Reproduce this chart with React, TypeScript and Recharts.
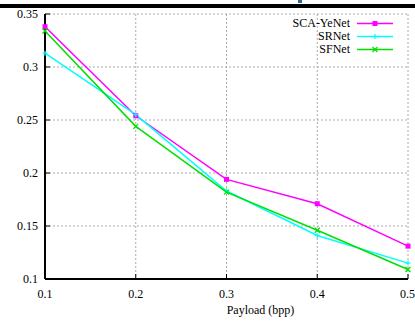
import React from 'react';
import { LineChart, Line, XAxis, YAxis, CartesianGrid, Legend } from 'recharts';

const payload = [0.1, 0.2, 0.3, 0.4, 0.5];
const scaYeNet = [0.338, 0.254, 0.194, 0.171, 0.131];
const srNet = [0.313, 0.255, 0.183, 0.141, 0.115];
const sfNet = [0.334, 0.244, 0.182, 0.146, 0.109];
const xTicks = [0.1, 0.2, 0.3, 0.4, 0.5];
const yTicks = [0.1, 0.15, 0.2, 0.25, 0.3, 0.35];
const seriesNames = ['SCA-YeNet', 'SRNet', 'SFNet'];
const xLabel = 'Payload (bpp)';

const colors = ['#ff00ff', '#00ffff', '#00e000'];
const FONT = '"Liberation Serif", "DejaVu Serif", serif';

const data = payload.map((p, i) => ({ p, sca: scaYeNet[i], sr: srNet[i], sf: sfNet[i] }));

const SquareDot = (props: any) => {
  const { cx, cy } = props;
  if (cx == null || cy == null) return null;
  return <rect x={cx - 2.5} y={cy - 2.5} width={5} height={5} fill={colors[0]} />;
};
const PlusDot = (props: any) => {
  const { cx, cy } = props;
  if (cx == null || cy == null) return null;
  return (
    <g stroke={colors[1]} strokeWidth={1.2}>
      <line x1={cx - 2.5} x2={cx + 2.5} y1={cy} y2={cy} />
      <line x1={cx} x2={cx} y1={cy - 2.5} y2={cy + 2.5} />
    </g>
  );
};
const XDot = (props: any) => {
  const { cx, cy } = props;
  if (cx == null || cy == null) return null;
  return (
    <g stroke={colors[2]} strokeWidth={1.2}>
      <line x1={cx - 2.5} x2={cx + 2.5} y1={cy - 2.5} y2={cy + 2.5} />
      <line x1={cx - 2.5} x2={cx + 2.5} y1={cy + 2.5} y2={cy - 2.5} />
    </g>
  );
};

const markers = [SquareDot, PlusDot, XDot];

const LegendContent = () => (
  <div style={{ fontFamily: FONT, fontSize: 12, color: '#000' }}>
    {seriesNames.map((name, i) => {
      const M = markers[i];
      return (
        <div key={name} style={{ display: 'flex', alignItems: 'center', justifyContent: 'flex-end', height: 13 }}>
          <span style={{ lineHeight: '13px' }}>{name}</span>
          <svg width={36} height={13} style={{ marginLeft: 7, display: 'block' }}>
            <line x1={0} x2={36} y1={6.5} y2={6.5} stroke={colors[i]} strokeWidth={1.5} />
            <M cx={18} cy={6.5} />
          </svg>
        </div>
      );
    })}
  </div>
);

const tickStyle = { fontFamily: FONT, fontSize: 12, fill: '#000' };

export default function App() {
  return (
    <div style={{ position: 'absolute', left: 0, top: 0, width: 415, height: 322, background: '#fff', overflow: 'hidden' }}>
      <div style={{ position: 'absolute', left: 0, top: 4, width: 415, height: 4, background: '#000' }} />
      <div style={{ position: 'absolute', left: 298, top: 0, width: 4, height: 3, background: '#2a6a9a' }} />
      <LineChart
        width={415}
        height={322}
        data={data}
        margin={{ top: 14, right: 7, bottom: 0, left: 0 }}
      >
        <CartesianGrid stroke="#aaa" strokeDasharray="2 2" />
        <XAxis
          dataKey="p"
          type="number"
          domain={[0.1, 0.5]}
          ticks={xTicks}
          height={43}
          tick={tickStyle}
          tickSize={-5}
          tickMargin={15}
          axisLine={{ stroke: '#000', strokeWidth: 2 }}
          tickLine={{ stroke: '#000' }}
          label={{ value: xLabel, position: 'insideBottom', dx: 34, offset: 8, style: { fontFamily: FONT, fontSize: 12, fill: '#000' } }}
        />
        <XAxis
          xAxisId="top"
          orientation="top"
          dataKey="p"
          type="number"
          domain={[0.1, 0.5]}
          ticks={xTicks}
          height={0}
          tick={false}
          tickSize={-5}
          axisLine={{ stroke: '#000', strokeWidth: 2 }}
          tickLine={{ stroke: '#000' }}
        />
        <YAxis
          type="number"
          domain={[0.1, 0.35]}
          ticks={yTicks}
          width={45}
          tick={tickStyle}
          tickSize={-5}
          tickMargin={12}
          axisLine={{ stroke: '#000', strokeWidth: 2 }}
          tickLine={{ stroke: '#000' }}
        />
        <YAxis
          yAxisId="right"
          orientation="right"
          type="number"
          domain={[0.1, 0.35]}
          ticks={yTicks}
          width={0}
          tick={false}
          tickSize={-5}
          axisLine={{ stroke: '#000', strokeWidth: 2 }}
          tickLine={{ stroke: '#000' }}
        />
        <Legend
          layout="horizontal"
          verticalAlign="middle"
          align="center"
          content={<LegendContent />}
          wrapperStyle={{ top: 17, left: 260, width: 133, height: 39 }}
        />
        <Line dataKey="sca" name={seriesNames[0]} stroke={colors[0]} strokeWidth={1.5} dot={<SquareDot />} isAnimationActive={false} />
        <Line dataKey="sr" name={seriesNames[1]} stroke={colors[1]} strokeWidth={1.5} dot={<PlusDot />} isAnimationActive={false} />
        <Line dataKey="sf" name={seriesNames[2]} stroke={colors[2]} strokeWidth={1.5} dot={<XDot />} isAnimationActive={false} />
      </LineChart>
    </div>
  );
}
